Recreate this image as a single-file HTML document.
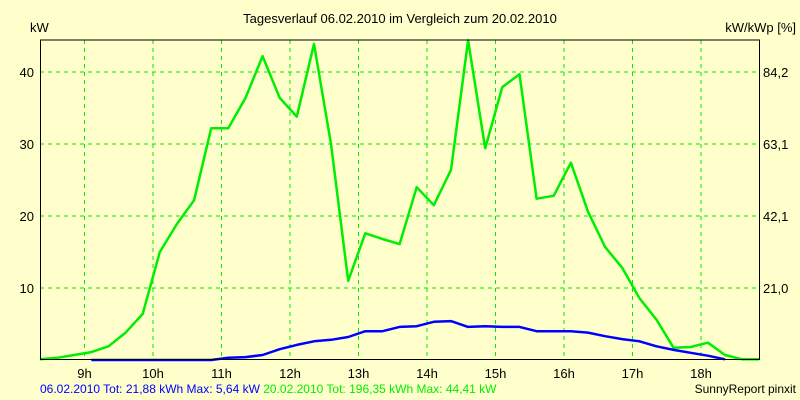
<!DOCTYPE html>
<html><head><meta charset="utf-8"><style>
body{margin:0;background:#ffffcc;font-family:"Liberation Sans",sans-serif;}
svg{display:block}
</style></head><body>
<svg id="chart" width="800" height="400" xmlns="http://www.w3.org/2000/svg">
<rect width="800" height="400" fill="#ffffcc"/>
<text x="400" y="23" font-size="13" text-anchor="middle">Tagesverlauf 06.02.2010 im Vergleich zum 20.02.2010</text>
<text x="30" y="32" font-size="13">kW</text>
<text x="796" y="32" font-size="13" text-anchor="end">kW/kWp [%]</text>
<g id="grid"></g>
<g id="series"></g>
<line x1="40" y1="40" x2="760" y2="40" stroke="#000"/>
<line x1="40.5" y1="40" x2="40.5" y2="360" stroke="#000"/>
<line x1="759.5" y1="40" x2="759.5" y2="360" stroke="#000"/>
<line x1="40" y1="359.5" x2="760" y2="359.5" stroke="#000"/>
<g id="labels"></g>
<text x="40" y="393" font-size="12"><tspan fill="#0000ff">06.02.2010 Tot: 21,88 kWh Max: 5,64 kW</tspan><tspan fill="#00ee00"> 20.02.2010 Tot: 196,35 kWh Max: 44,41 kW</tspan></text>
<text x="796" y="393" font-size="12" text-anchor="end">SunnyReport pinxit</text>
</svg>
<script>
const hourTicks=[9,10,11,12,13,14,15,16,17,18];
const yTicks=[10,20,30,40];
const rightTickLabels=["21,0","42,1","63,1","84,2"];
const startHour=8.35;
const stepHours=0.25;
const green=[0.1,0.3,0.7,1.1,1.9,3.8,6.4,15.0,18.9,22.2,32.2,32.2,36.4,42.2,36.4,33.8,43.9,29.9,11.0,17.6,16.8,16.1,24.0,21.5,26.4,44.4,29.4,37.9,39.7,22.4,22.8,27.4,20.6,15.7,12.8,8.6,5.6,1.7,1.8,2.4,0.7,0.1,0.1];
const blue=[null,null,null,0,0,0,0,0,0,0,0,0.3,0.4,0.7,1.5,2.1,2.6,2.8,3.2,4.0,4.0,4.6,4.7,5.3,5.4,4.6,4.7,4.6,4.6,4.0,4.0,4.0,3.8,3.3,2.9,2.6,1.9,1.4,1.0,0.6,0.1,null,null];
const X=h=>84.5+(h-9)*68.5;
const Y=v=>360-v*7.2;
const NS="http://www.w3.org/2000/svg";
const grid=document.getElementById('grid'),series=document.getElementById('series'),labels=document.getElementById('labels');
function mk(tag,attrs,parent){const e=document.createElementNS(NS,tag);for(const k in attrs)e.setAttribute(k,attrs[k]);parent.appendChild(e);return e;}
hourTicks.forEach(h=>{
  const l=mk('line',{x1:X(h),x2:X(h),y1:40,y2:360,stroke:'#00ee00','stroke-dasharray':'4,4'},grid);
  
  
  const t=mk('text',{x:X(h),y:378,'font-size':13,'text-anchor':'middle'},labels);
  t.textContent=h+'h';
  
  
});
yTicks.forEach((v,i)=>{
  const l=mk('line',{x1:40,x2:760,y1:Y(v),y2:Y(v),stroke:'#00ee00','stroke-dasharray':'4,4'},grid);
  
  
  const t=mk('text',{x:34,y:Y(v)+5,'font-size':13,'text-anchor':'end'},labels);
  t.textContent=v;
  
  
  const r=mk('text',{x:763,y:Y(v)+5,'font-size':13},labels);
  r.textContent=rightTickLabels[i];
  
  
});
function path(arr){let d='',pen=false;arr.forEach((v,i)=>{if(v===null){pen=false;return;}d+=(pen?'L':'M')+X(startHour+i*stepHours).toFixed(1)+','+Y(v).toFixed(1);pen=true;});return d;}
const g=mk('path',{d:path(green),fill:'none',stroke:'#00ee00','stroke-width':2.5,'stroke-linejoin':'round'},series);


const b=mk('path',{d:path(blue),fill:'none',stroke:'#0000ff','stroke-width':2.5,'stroke-linejoin':'round'},series);


</script>
</body></html>
